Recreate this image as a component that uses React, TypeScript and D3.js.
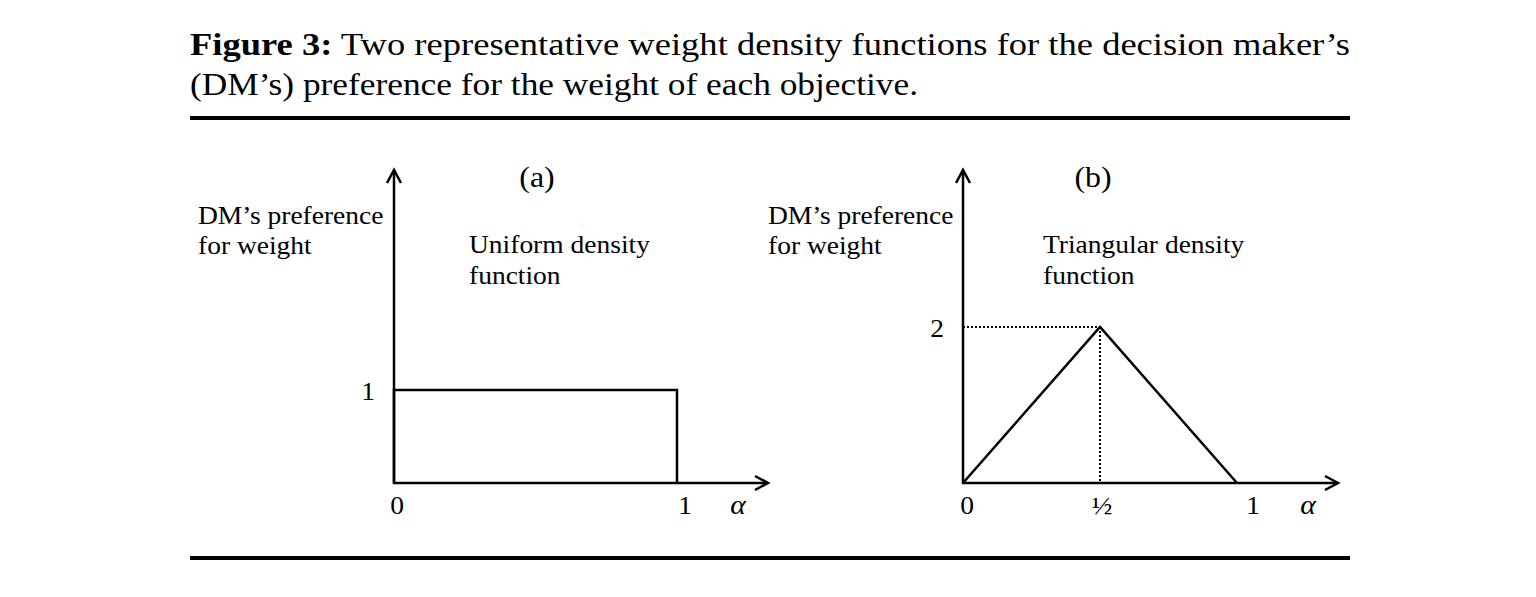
import * as d3 from "d3";
import React from "react";

// uniform density (a)
const uniformAlpha = [0, 0, 1, 1];
const uniformDensity = [0, 1, 1, 0];
// triangular density (b)
const triAlpha = [0, 0.5, 1];
const triDensity = [0, 2, 0];
const peakAlpha = 0.5;
const peakDensity = 2;

const ticksA = [{ v: 0, t: "0" }, { v: 1, t: "1" }];
const ticksB = [{ v: 0, t: "0" }, { v: 0.5, t: "½" }, { v: 1, t: "1" }];
const yTicksA = [{ v: 1, t: "1" }];
const yTicksB = [{ v: 2, t: "2" }];

const TITLE_BOLD = "Figure 3:";
const TITLE_LINE1 = " Two representative weight density functions for the decision maker’s";
const TITLE_LINE2 = "(DM’s) preference for the weight of each objective.";

const FONT = "'Liberation Serif', 'Times New Roman', serif";
const SX = 1.1; // source text is a bit wide

type Panel = {
  ox: number;
  oy: number;
  xUnit: number;
  yUnit: number;
  xEnd: number;
  yEnd: number;
  label: string;
  labelX: number;
  descX: number;
  yLabelX: number;
  desc: string;
};

// text stretched horizontally around its anchor
const T = ({ x, y, size = 25, anchor = "start", italic = false, children }: any) => (
  <text
    transform={`translate(${x},${y}) scale(${SX},1)`}
    fontSize={size}
    textAnchor={anchor}
    fontStyle={italic ? "italic" : "normal"}
  >
    {children}
  </text>
);

const arrow = (x: number, y: number, dir: "up" | "right") =>
  dir === "up"
    ? `M${x - 7},${y + 13} L${x},${y} L${x + 7},${y + 13}`
    : `M${x - 13},${y - 7} L${x},${y} L${x - 13},${y + 7}`;

const Axes = ({ p, xTicks, yTicks, tickDx }: { p: Panel; xTicks: any[]; yTicks: any[]; tickDx: (v: number) => number }) => {
  const x = d3.scaleLinear().domain([0, 1]).range([p.ox, p.ox + p.xUnit]);
  const y = d3.scaleLinear().domain([0, 1]).range([p.oy, p.oy - p.yUnit]);
  return (
    <g>
      <line x1={p.ox} y1={p.oy + 1} x2={p.ox} y2={p.yEnd} stroke="#000" strokeWidth={2.5} />
      <line x1={p.ox - 1} y1={p.oy} x2={p.xEnd} y2={p.oy} stroke="#000" strokeWidth={2.5} />
      <path d={arrow(p.ox, p.yEnd, "up")} fill="none" stroke="#000" strokeWidth={2.5} />
      <path d={arrow(p.xEnd, p.oy, "right")} fill="none" stroke="#000" strokeWidth={2.5} />
      {xTicks.map((d) => (
        <T key={d.t} x={x(d.v) + tickDx(d.v)} y={p.oy + 31} anchor="middle">{d.t}</T>
      ))}
      <T x={p.xEnd - 30} y={p.oy + 31} anchor="middle" size={27} italic>α</T>
      {yTicks.map((d) => (
        <T key={d.t} x={p.ox - 26} y={y(d.v) + 10} anchor="middle">{d.t}</T>
      ))}
      <T x={p.labelX} y={187} anchor="middle" size={29}>{p.label}</T>
      <T x={p.yLabelX} y={224}>DM’s preference</T>
      <T x={p.yLabelX} y={254}>for weight</T>
      <T x={p.descX} y={253}>{p.desc}</T>
      <T x={p.descX} y={284}>function</T>
    </g>
  );
};

export default function App() {
  const pA: Panel = {
    ox: 394, oy: 483, xUnit: 283, yUnit: 93, xEnd: 768, yEnd: 170,
    label: "(a)", labelX: 537, descX: 469, yLabelX: 198, desc: "Uniform density",
  };
  const pB: Panel = {
    ox: 963, oy: 483, xUnit: 274, yUnit: 78, xEnd: 1338, yEnd: 170,
    label: "(b)", labelX: 1093, descX: 1043, yLabelX: 768, desc: "Triangular density",
  };

  const xa = d3.scaleLinear().domain([0, 1]).range([pA.ox, pA.ox + pA.xUnit]);
  const ya = d3.scaleLinear().domain([0, 1]).range([pA.oy, pA.oy - pA.yUnit]);
  const xb = d3.scaleLinear().domain([0, 1]).range([pB.ox, pB.ox + pB.xUnit]);
  const yb = d3.scaleLinear().domain([0, 1]).range([pB.oy, pB.oy - pB.yUnit]);

  const lineA = d3.line<number>().x((_, i) => xa(uniformAlpha[i])).y((d) => ya(d));
  const lineB = d3.line<number>().x((_, i) => xb(triAlpha[i])).y((d) => yb(d));

  return (
    <svg width={1536} height={597} style={{ position: "absolute", left: 0, top: 0 }} fontFamily={FONT}>
      <rect width={1536} height={597} fill="#fff" />
      <text x={190} y={55} fontSize={32} textLength={1160} lengthAdjust="spacingAndGlyphs">
        <tspan fontWeight="bold">{TITLE_BOLD}</tspan>
        {TITLE_LINE1}
      </text>
      <text x={190} y={95} fontSize={32} textLength={728} lengthAdjust="spacingAndGlyphs">{TITLE_LINE2}</text>
      <rect x={190} y={116} width={1160} height={4} fill="#000" />
      <rect x={190} y={556} width={1160} height={4} fill="#000" />

      <Axes p={pA} xTicks={ticksA} yTicks={yTicksA} tickDx={(v) => (v === 0 ? 3 : 8)} />
      <path d={lineA(uniformDensity) || ""} fill="none" stroke="#000" strokeWidth={2.5} />

      <Axes p={pB} xTicks={ticksB} yTicks={yTicksB} tickDx={(v) => (v === 0 ? 4 : v === 1 ? 16 : 2)} />
      <line x1={pB.ox} y1={yb(peakDensity)} x2={xb(peakAlpha)} y2={yb(peakDensity)} stroke="#000" strokeWidth={2} strokeDasharray="2,2" />
      <line x1={xb(peakAlpha)} y1={yb(peakDensity)} x2={xb(peakAlpha)} y2={pB.oy} stroke="#000" strokeWidth={2} strokeDasharray="2,2" />
      <path d={lineB(triDensity) || ""} fill="none" stroke="#000" strokeWidth={2.5} />
    </svg>
  );
}
